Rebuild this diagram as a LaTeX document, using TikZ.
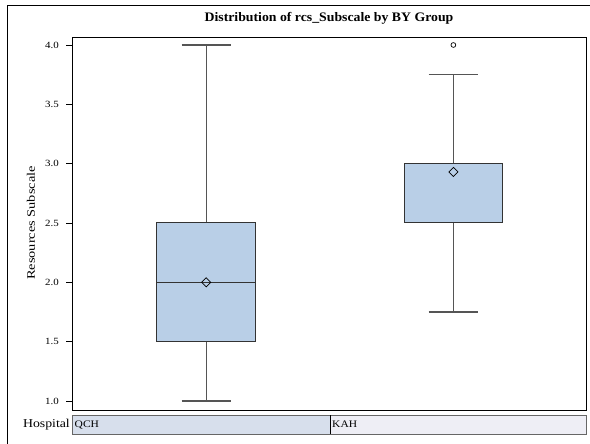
\documentclass[tikz,border=0pt]{standalone}
\usepackage{fontspec}
\setmainfont{Liberation Serif}
\newcommand{\widetext}[2]{\scalebox{#1}[1]{#2}}
\begin{document}
\begin{tikzpicture}[x=1pt,y=-1pt,
  boxfill/.style={fill=boxblue,draw=boxedge,line width=1pt},
  whisk/.style={draw=whiskgray,line width=1.1pt},
  tickl/.style={anchor=east,font=\fontsize{9.5}{10}\selectfont,inner sep=0pt},
  striptext/.style={anchor=west,font=\fontsize{10}{11}\selectfont,inner sep=0pt},
  meanmark/.style={draw=black,line width=0.7pt,fill=none},
]
\definecolor{boxblue}{HTML}{B9CFE7}
\definecolor{boxedge}{HTML}{333333}
\definecolor{whiskgray}{HTML}{555555}
\definecolor{stripA}{HTML}{D7DFEC}
\definecolor{stripB}{HTML}{EEEEF5}
\definecolor{stripedge}{HTML}{666666}
% value -> vertical position
\pgfmathsetmacro{\ybase}{401}
\pgfmathsetmacro{\yunit}{118.67}
\def\yv#1{\ybase-(#1-1)*\yunit}
\useasboundingbox (0,0) rectangle (590,444);
% outer frame (only its left and top edges fall inside the page)
\draw[line width=0.8pt] (7.5,450) -- (7.5,5) -- (600,5);
% title
\node[font=\bfseries\fontsize{13}{15}\selectfont] (title) at (329,18) {\widetext{1.06}{Distribution of rcs\_Subscale by BY Group}};
% y label
\node[rotate=90,font=\fontsize{11.5}{13}\selectfont] (ylab) at (31,223) {\widetext{1.25}{Resources Subscale}};
% plot frame
\draw[line width=0.9pt] (72.5,37) rectangle (586,410);
% ticks and labels
\foreach \v in {1.0,1.5,2.0,2.5,3.0,3.5,4.0}{
  \draw[line width=0.6pt] (66,{\yv{\v}}) -- (72.5,{\yv{\v}});
  \node[tickl] at (59,{\yv{\v}}) {\widetext{1.15}{\v}};
}
% --- QCH
\draw[whisk] (206.2,{\yv{1.0}}) -- (206.2,{\yv{1.5}});
\draw[whisk] (206.2,{\yv{4.0}}) -- (206.2,{\yv{2.5}});
\draw[whisk] (181.5,{\yv{1.0}}) -- (231,{\yv{1.0}});
\draw[whisk] (181.5,{\yv{4.0}}) -- (231,{\yv{4.0}});
\draw[boxfill] (156.7,{\yv{1.5}}) rectangle (255.7,{\yv{2.5}});
\draw[boxedge,line width=1pt] (156.7,{\yv{2.0}}) -- (255.7,{\yv{2.0}});
\draw[meanmark] (206.2,{\yv{2.0}-4.6}) -- (210.8,{\yv{2.0}}) -- (206.2,{\yv{2.0}+4.6}) -- (201.6,{\yv{2.0}}) -- cycle;
% --- KAH
\draw[whisk] (453.4,{\yv{1.75}}) -- (453.4,{\yv{2.5}});
\draw[whisk] (453.4,{\yv{3.75}}) -- (453.4,{\yv{3.0}});
\draw[whisk] (428.5,{\yv{1.75}}) -- (478,{\yv{1.75}});
\draw[whisk] (428.5,{\yv{3.75}}) -- (478,{\yv{3.75}});
\draw[boxfill] (404,{\yv{2.5}}) rectangle (502.7,{\yv{3.0}});
\draw[meanmark] (453.4,{\yv{2.93}-4.6}) -- (458,{\yv{2.93}}) -- (453.4,{\yv{2.93}+4.6}) -- (448.8,{\yv{2.93}}) -- cycle;
\draw[line width=0.7pt] (453.4,{\yv{4.0}}) circle (2.4);
% strip
\draw[draw=stripedge,fill=stripA,line width=0.9pt] (72.5,415) rectangle (330,434);
\draw[draw=stripedge,fill=stripB,line width=0.9pt] (330,415) rectangle (586,434);
\draw[line width=0.9pt] (330,415) -- (330,434);
\node[anchor=east,font=\fontsize{12}{13}\selectfont,inner sep=0pt] (hosp) at (70,424.5) {\widetext{1.15}{Hospital}};
\node[striptext] (qch) at (74.5,424.5) {\widetext{1.15}{QCH}};
\node[striptext] (kah) at (332,424.5) {\widetext{1.15}{KAH}};
\end{tikzpicture}
\end{document}
